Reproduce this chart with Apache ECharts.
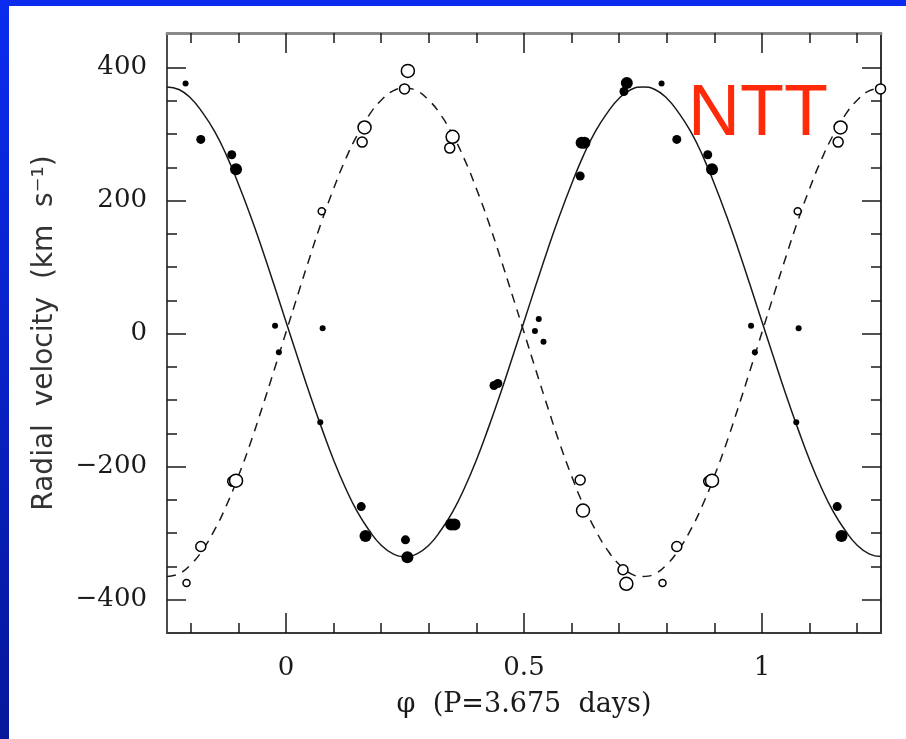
<!DOCTYPE html>
<html>
<head>
<meta charset="utf-8">
<script src="https://cdn.jsdelivr.net/npm/echarts@6/dist/echarts.min.js"></script>
<style>
html,body{margin:0;padding:0;background:#fff;}
#chart{width:906px;height:739px;}
</style>
</head>
<body>
<div id="chart"></div>
<script>
// ---- Data ----
// Fit curves sampled every 0.025 in phase
const curvePhase = [-0.25,-0.225,-0.2,-0.175,-0.15,-0.125,-0.1,-0.075,-0.05,-0.025,0,0.025,0.05,0.075,0.1,0.125,0.15,0.175,0.2,0.225,0.25,0.275,0.3,0.325,0.35,0.375,0.4,0.425,0.45,0.475,0.5,0.525,0.55,0.575,0.6,0.625,0.65,0.675,0.7,0.725,0.75,0.775,0.8,0.825,0.85,0.875,0.9,0.925,0.95,0.975,1,1.025,1.05,1.075,1.1,1.125,1.15,1.175,1.2,1.225,1.25];
const primaryFit = [371,367,354,332,304,268,225,178,127,73,18,-37,-91,-142,-190,-232,-268,-296,-318,-331,-335,-331,-318,-296,-268,-232,-190,-142,-91,-37,18,73,127,178,225,268,304,332,354,367,371,367,354,332,304,268,225,178,127,73,18,-37,-91,-142,-190,-232,-268,-296,-318,-331,-335];
const secondaryFit = [-365,-361,-347,-325,-295,-258,-214,-165,-111,-55,2,59,115,169,218,262,299,329,351,365,369,365,351,329,299,262,218,169,115,59,2,-55,-111,-165,-214,-258,-295,-325,-347,-361,-365,-361,-347,-325,-295,-258,-214,-165,-111,-55,2,59,115,169,218,262,299,329,351,365,369];

// Primary star (filled circles), grouped by marker class
const primarySmall = [[-0.211,376],[0.789,376],[-0.023,12],[0.977,12],[-0.015,-28],[0.985,-28],[0.077,8],[1.077,8],[0.072,-133],[1.072,-133],[0.531,22],[0.523,4],[0.541,-12]];
const primaryMedium = [[-0.179,292],[0.821,292],[-0.114,269],[0.886,269],[0.437,-78],[0.445,-75],[0.158,-260],[1.158,-260],[0.251,-310],[1.251,-310],[0.618,237],[0.710,364]];
const primaryLarge = [[-0.105,247],[0.895,247],[0.167,-304],[1.167,-304],[0.255,-336],[0.347,-287],[0.354,-287],[0.621,287],[0.627,287],[0.716,377]];

// Secondary star (open circles), grouped by marker class
const secondarySmall = [[0.075,184],[1.075,184],[-0.209,-375],[0.791,-375]];
const secondaryMedium = [[0.249,368],[1.249,368],[0.160,288],[1.160,288],[0.344,279],[-0.112,-222],[0.888,-222],[-0.179,-320],[0.821,-320],[0.618,-220],[0.708,-355]];
const secondaryLarge = [[0.256,395],[0.165,310],[1.165,310],[0.350,296],[-0.105,-221],[0.895,-221],[0.624,-266],[0.715,-376]];

// Axis ticks
const xMajorTicks = [0, 0.5, 1];
const xMinorTicks = [-0.2,-0.1,0.1,0.2,0.3,0.4,0.6,0.7,0.8,0.9,1.1,1.2];
const yMajorTicks = [-400,-200,0,200,400];
const yMinorTicks = [-350,-300,-250,-150,-100,-50,50,100,150,250,300,350];

const xTitle = 'φ  (P=3.675  days)';
const yTitle = 'Radial  velocity  (km  s⁻¹)';
const tagText = 'NTT';

// ---- Chart ----
const X_MIN = -0.25, X_MAX = 1.25, Y_MIN = -450, Y_MAX = 452;
const serif = 'DejaVu Serif';
const ink = '#1a1a1a';

function zip(xs, ys){ return xs.map((x,i)=>[x, ys[i]]); }
function yFmt(v){ return v < 0 ? '\u2212' + (-v) : String(v); }
function xFmt(v){ return String(+v.toFixed(2)); }

function xAxisDef(pos, ticks, len, lineStyle, withLabel){
  return {
    type:'value', min:X_MIN, max:X_MAX, position:pos,
    axisLine:{show:!!lineStyle, onZero:false, lineStyle:lineStyle||{}},
    axisTick:{show:true, inside:true, length:len, customValues:ticks, lineStyle:{color:ink, width:1.5}},
    axisLabel:withLabel ? {show:true, customValues:ticks, formatter:xFmt, margin:22, fontFamily:serif, fontSize:26, color:ink} : {show:false},
    splitLine:{show:false},
    name: withLabel ? xTitle : '',
    nameLocation:'middle', nameGap:58,
    nameTextStyle:{fontFamily:serif, fontSize:27, color:ink}
  };
}
function yAxisDef(pos, ticks, len, lineStyle, withLabel){
  return {
    type:'value', min:Y_MIN, max:Y_MAX, position:pos,
    axisLine:{show:!!lineStyle, onZero:false, lineStyle:lineStyle||{}},
    axisTick:{show:true, inside:true, length:len, customValues:ticks, lineStyle:{color:ink, width:1.5}},
    axisLabel:withLabel ? {show:true, customValues:ticks, formatter:yFmt, margin:20, fontFamily:serif, fontSize:26, color:ink} : {show:false},
    splitLine:{show:false},
    name: withLabel ? yTitle : '',
    nameLocation:'middle', nameGap:108, nameRotate:90,
    nameTextStyle:{fontFamily:'DejaVu Sans', fontSize:28, color:'#333'}
  };
}

const chart = echarts.init(document.getElementById('chart'), null, {renderer:'canvas'});
const markerFilled = {color:'#000', opacity:1};
const markerOpen = {color:'#fff', borderColor:'#000', borderWidth:1.5, opacity:1};
const option = {
  backgroundColor:'#ffffff',
  animation:false,
  grid:{left:167, top:33, right:25, bottom:106},
  xAxis:[
    xAxisDef('bottom', xMajorTicks, 20, {color:'#3a3a3a', width:2}, true),
    xAxisDef('bottom', xMinorTicks, 10, null, false),
    xAxisDef('top', xMajorTicks, 20, {color:'#8a8a8a', width:3}, false),
    xAxisDef('top', xMinorTicks, 10, null, false)
  ],
  yAxis:[
    yAxisDef('left', yMajorTicks, 19, {color:'#111', width:1.5}, true),
    yAxisDef('left', yMinorTicks, 10, null, false),
    yAxisDef('right', yMajorTicks, 19, {color:'#333', width:2}, false),
    yAxisDef('right', yMinorTicks, 10, null, false)
  ],
  graphic:[
    {type:'rect', left:0, top:0, z:100, shape:{width:9, height:739},
     style:{fill:new echarts.graphic.LinearGradient(0,0,0,1,[{offset:0,color:'#0b2bef'},{offset:1,color:'#06179a'}])}},
    {type:'rect', left:0, top:0, z:100, shape:{width:906, height:6}, style:{fill:'#0b2bef'}},
    {type:'text', left:688, top:79, z:50,
     style:{text:tagText, fill:'#ff2a0a', font:'72px "Liberation Sans", Arial, sans-serif'}}
  ],
  series:[
    {type:'line', name:'primary fit', data:zip(curvePhase, primaryFit), smooth:true, symbol:'none', z:2,
     lineStyle:{color:ink, width:1.5}},
    {type:'line', name:'secondary fit', data:zip(curvePhase, secondaryFit), smooth:true, symbol:'none', z:2,
     lineStyle:{color:ink, width:1.5, type:[9,7]}},
    {type:'scatter', data:primarySmall, symbol:'circle', symbolSize:6, z:4, itemStyle:markerFilled},
    {type:'scatter', data:primaryMedium, symbol:'circle', symbolSize:9, z:4, itemStyle:markerFilled},
    {type:'scatter', data:primaryLarge, symbol:'circle', symbolSize:12, z:4, itemStyle:markerFilled},
    {type:'scatter', data:secondarySmall, symbol:'circle', symbolSize:7, z:4, itemStyle:markerOpen},
    {type:'scatter', data:secondaryMedium, symbol:'circle', symbolSize:10, z:4, itemStyle:markerOpen},
    {type:'scatter', data:secondaryLarge, symbol:'circle', symbolSize:13, z:4, itemStyle:markerOpen}
  ]
};
chart.setOption(option);
</script>
</body>
</html>
